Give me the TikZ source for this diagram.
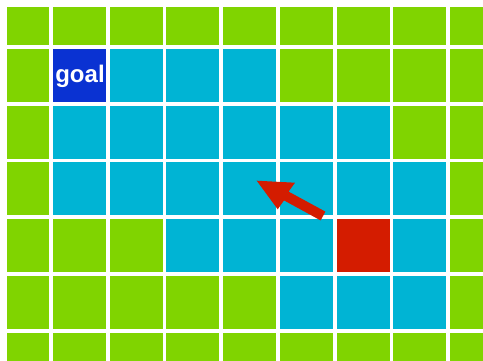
\documentclass[tikz,border=0pt]{standalone}
\usepackage{fontspec}
\setmainfont{Liberation Sans}
\definecolor{cellg}{HTML}{80D400}
\definecolor{cellc}{HTML}{00B4D4}
\definecolor{cellb}{HTML}{0A32D2}
\definecolor{cellr}{HTML}{D41C00}
\begin{document}
\begin{tikzpicture}[x=1pt,y=-1pt,
  goaltext/.style={text=white,font=\bfseries\fontsize{24}{24}\selectfont,inner sep=0pt}]
\useasboundingbox (0,0) rectangle (483,360);
\fill[white] (0,0) rectangle (483,360);
\begin{scope}
\clip (7,7) rectangle (483,360);
\foreach \row [count=\r from 0] in {
  {g,g,g,g,g,g,g,g,g},
  {g,b,c,c,c,g,g,g,g},
  {g,c,c,c,c,c,c,g,g},
  {g,c,c,c,c,c,c,c,g},
  {g,g,g,c,c,c,r,c,g},
  {g,g,g,g,g,c,c,c,g},
  {g,g,g,g,g,g,g,g,g}} {
  \foreach \c [count=\k from 0] in \row {
    \fill[cell\c] ({53+(\k-1)*56.7},{49+(\r-1)*56.7}) rectangle ++(53,53);
  }
}
\end{scope}
\node[goaltext] (goal) at (80,76) {goal};
\fill[cellr] (256.7,180.7) -- (295,182.7) -- (288.6,191.6) -- (325.4,211.6)
  -- (320.6,220.4) -- (284,200.4) -- (277.7,209.3) -- cycle;
\end{tikzpicture}
\end{document}
